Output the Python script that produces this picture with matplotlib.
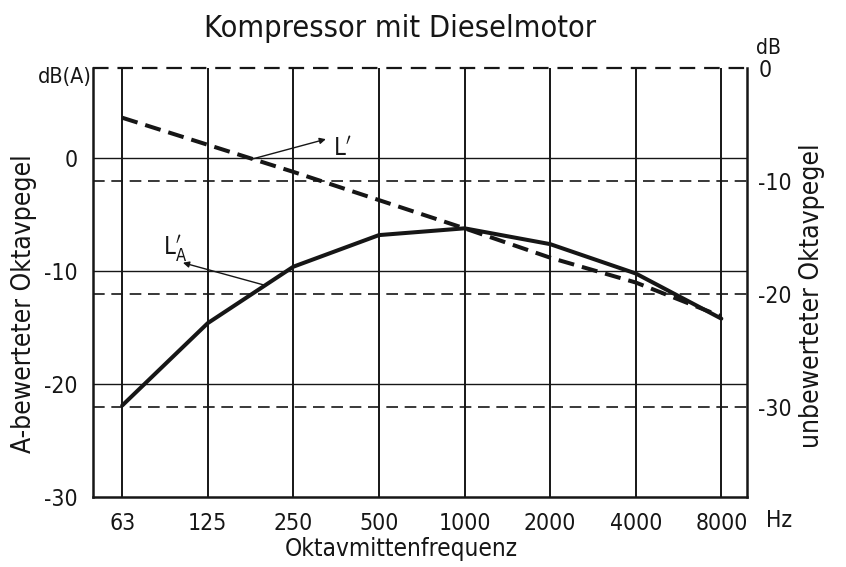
import matplotlib
matplotlib.use('Agg')
import matplotlib.pyplot as plt
import numpy as np

# octave band centre frequencies (Hz)
freqs = ['63', '125', '250', '500', '1000', '2000', '4000', '8000']
# A-weighted octave level L'A, left axis dB(A)
la_vals = [-21.9, -14.6, -9.6, -6.8, -6.2, -7.6, -10.2, -14.2]
# unweighted octave level L', right axis dB
l_vals = [-4.4, -6.8, -9.2, -11.7, -14.2, -16.8, -19.0, -22.0]

left_ticks = [0, -10, -20, -30]
right_ticks = [0, -10, -20, -30]

INK = '#161616'
plt.rcParams['font.family'] = ['DejaVu Sans']
plt.rcParams['font.stretch'] = 'condensed'
plt.rcParams['axes.unicode_minus'] = False

fig = plt.figure(figsize=(8.46, 5.67), dpi=100)
ax = fig.add_axes([0.110, 0.1235, 0.773, 0.7565])
ax2 = ax.twinx()

x = np.arange(len(freqs))
ax.set_xlim(-0.34, 7.3)
ax.set_ylim(-30, 8)
ax2.set_ylim(-38, 0)

# grid: solid lines for dB(A), dashed for dB
for v in x:
    ax.axvline(v, color=INK, lw=1.4)
for t in left_ticks[:-1]:
    ax.axhline(t, color=INK, lw=1.0)
for t in right_ticks[1:]:
    ax2.axhline(t, color=INK, lw=1.2, ls=(0, (7, 4)))

# curves
ax.plot(x, la_vals, color=INK, lw=2.9, solid_capstyle='round')
ax2.plot(x, l_vals, color=INK, lw=2.9, ls=(0, (4, 2)))

# frame
for s in ['left', 'right', 'bottom']:
    ax.spines[s].set_linewidth(1.8)
    ax.spines[s].set_color(INK)
ax.spines['top'].set_visible(False)
for s in ax2.spines.values():
    s.set_visible(False)
ax2.axhline(0, color=INK, lw=1.6, ls=(0, (7, 4)), clip_on=False)

ax.set_xticks(x)
ax.set_xticklabels(freqs)
ax.set_yticks(left_ticks)
ax2.set_yticks(right_ticks)
ax.tick_params(length=0, labelsize=16.5, pad=11, colors=INK)
ax.tick_params(axis='y', pad=11)
ax2.tick_params(length=0, labelsize=16.5, pad=8, colors=INK)

ax.text(7.68, -32.1, 'Hz', fontsize=16.5, color=INK, ha='center', va='center')
ax.text(-0.36, 7.2, 'dB(A)', fontsize=15.5, color=INK, ha='right', va='center')
ax2.text(7.55, 1.8, 'dB', fontsize=15, color=INK, ha='center', va='center')

ax.set_xlabel('Oktavmittenfrequenz', fontsize=17.5, color=INK)
ax.set_ylabel('A-bewerteter Oktavpegel', fontsize=19, color=INK)
ax2.set_ylabel('unbewerteter Oktavpegel', fontsize=19, color=INK)
ax.xaxis.set_label_coords(0.472, -0.093)
ax.yaxis.set_label_coords(-0.085, 0.45)
ax2.yaxis.set_label_coords(1.08, 0.47)
fig.suptitle('Kompressor mit Dieselmotor', fontsize=22, color=INK, x=0.473, y=0.975)

# curve labels with leader arrows (arrowheads point at the labels)
ax2.annotate('', xy=(2.38, -6.3), xytext=(1.5, -8.1),
             arrowprops=dict(arrowstyle='-|>', color=INK, lw=1.0,
                             mutation_scale=9, shrinkA=0, shrinkB=0))
ax2.text(2.57, -7.1, r'$\mathrm{L}^{\prime}$', fontsize=17, color=INK,
         ha='center', va='center')
ax.annotate('', xy=(0.71, -9.25), xytext=(1.67, -11.25),
            arrowprops=dict(arrowstyle='-|>', color=INK, lw=1.0,
                            mutation_scale=9, shrinkA=0, shrinkB=0))
ax.text(0.62, -8.0, r'$\mathrm{L}^{\prime}_{\mathrm{A}}$', fontsize=17, color=INK,
        ha='center', va='center')

fig.savefig('out.png', dpi=100, facecolor='white')
